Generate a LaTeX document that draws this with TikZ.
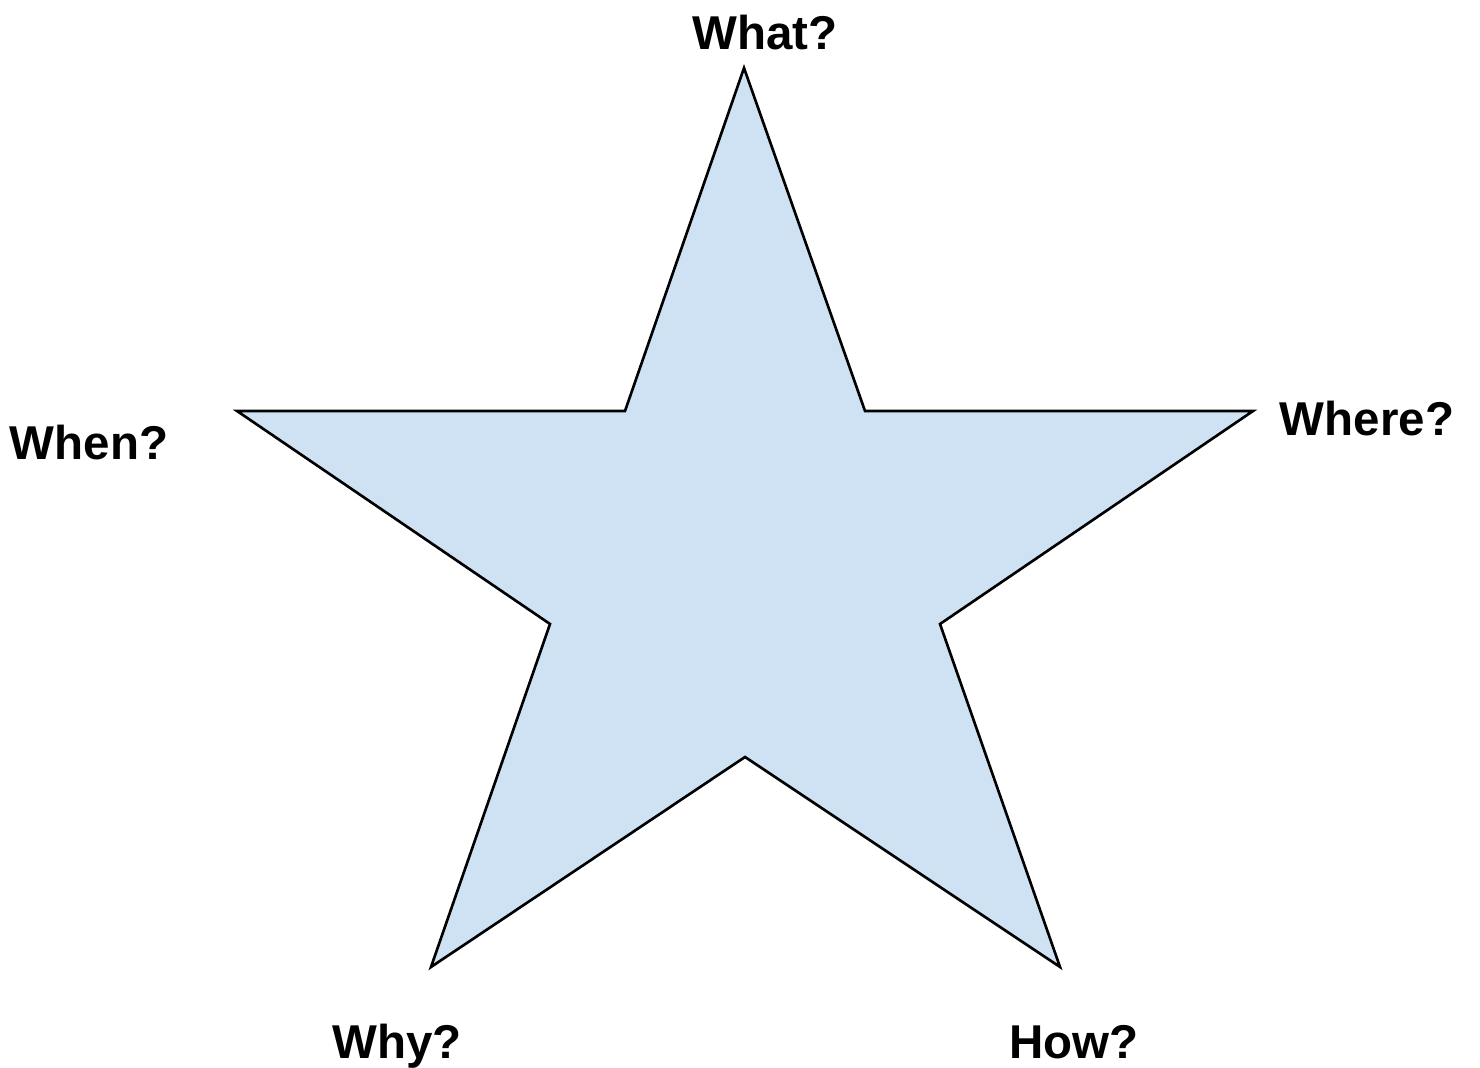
\documentclass[tikz,border=0pt]{standalone}
\usepackage{fontspec}
\setmainfont{Liberation Sans}
\usetikzlibrary{positioning}

\definecolor{starblue}{HTML}{CFE2F3}

\tikzset{
	question/.style={anchor=base, font=\fontsize{13.5}{16}\selectfont\bfseries, inner sep=0pt},
	starline/.style={draw=black, line width=0.75pt, fill=starblue, line join=miter}
}

\begin{document}
\begin{tikzpicture}[x=0.01cm, y=-0.01cm]

	\useasboundingbox (0,0) rectangle (1480,1068);

	% star points
	\coordinate (top) at (744,68);
	\coordinate (ur) at (865,411);
	\coordinate (right) at (1253,411);
	\coordinate (lr) at (940,624);
	\coordinate (br) at (1060,967);
	\coordinate (bot) at (745,757);
	\coordinate (bl) at (431,967);
	\coordinate (ll) at (550,624);
	\coordinate (left) at (237,411);
	\coordinate (ul) at (625,411);

	\draw[starline] (top) -- (ur) -- (right) -- (lr) -- (br) -- (bot)
	-- (bl) -- (ll) -- (left) -- (ul) -- cycle;

	\node[question] (what) at (765,50) {What?};
	\node[question] (when) at (89,460) {When?};
	\node[question] (where) at (1367,436) {Where?};
	\node[question] (why) at (397,1058) {Why?};
	\node[question] (how) at (1074,1058) {How?};

\end{tikzpicture}
\end{document}
